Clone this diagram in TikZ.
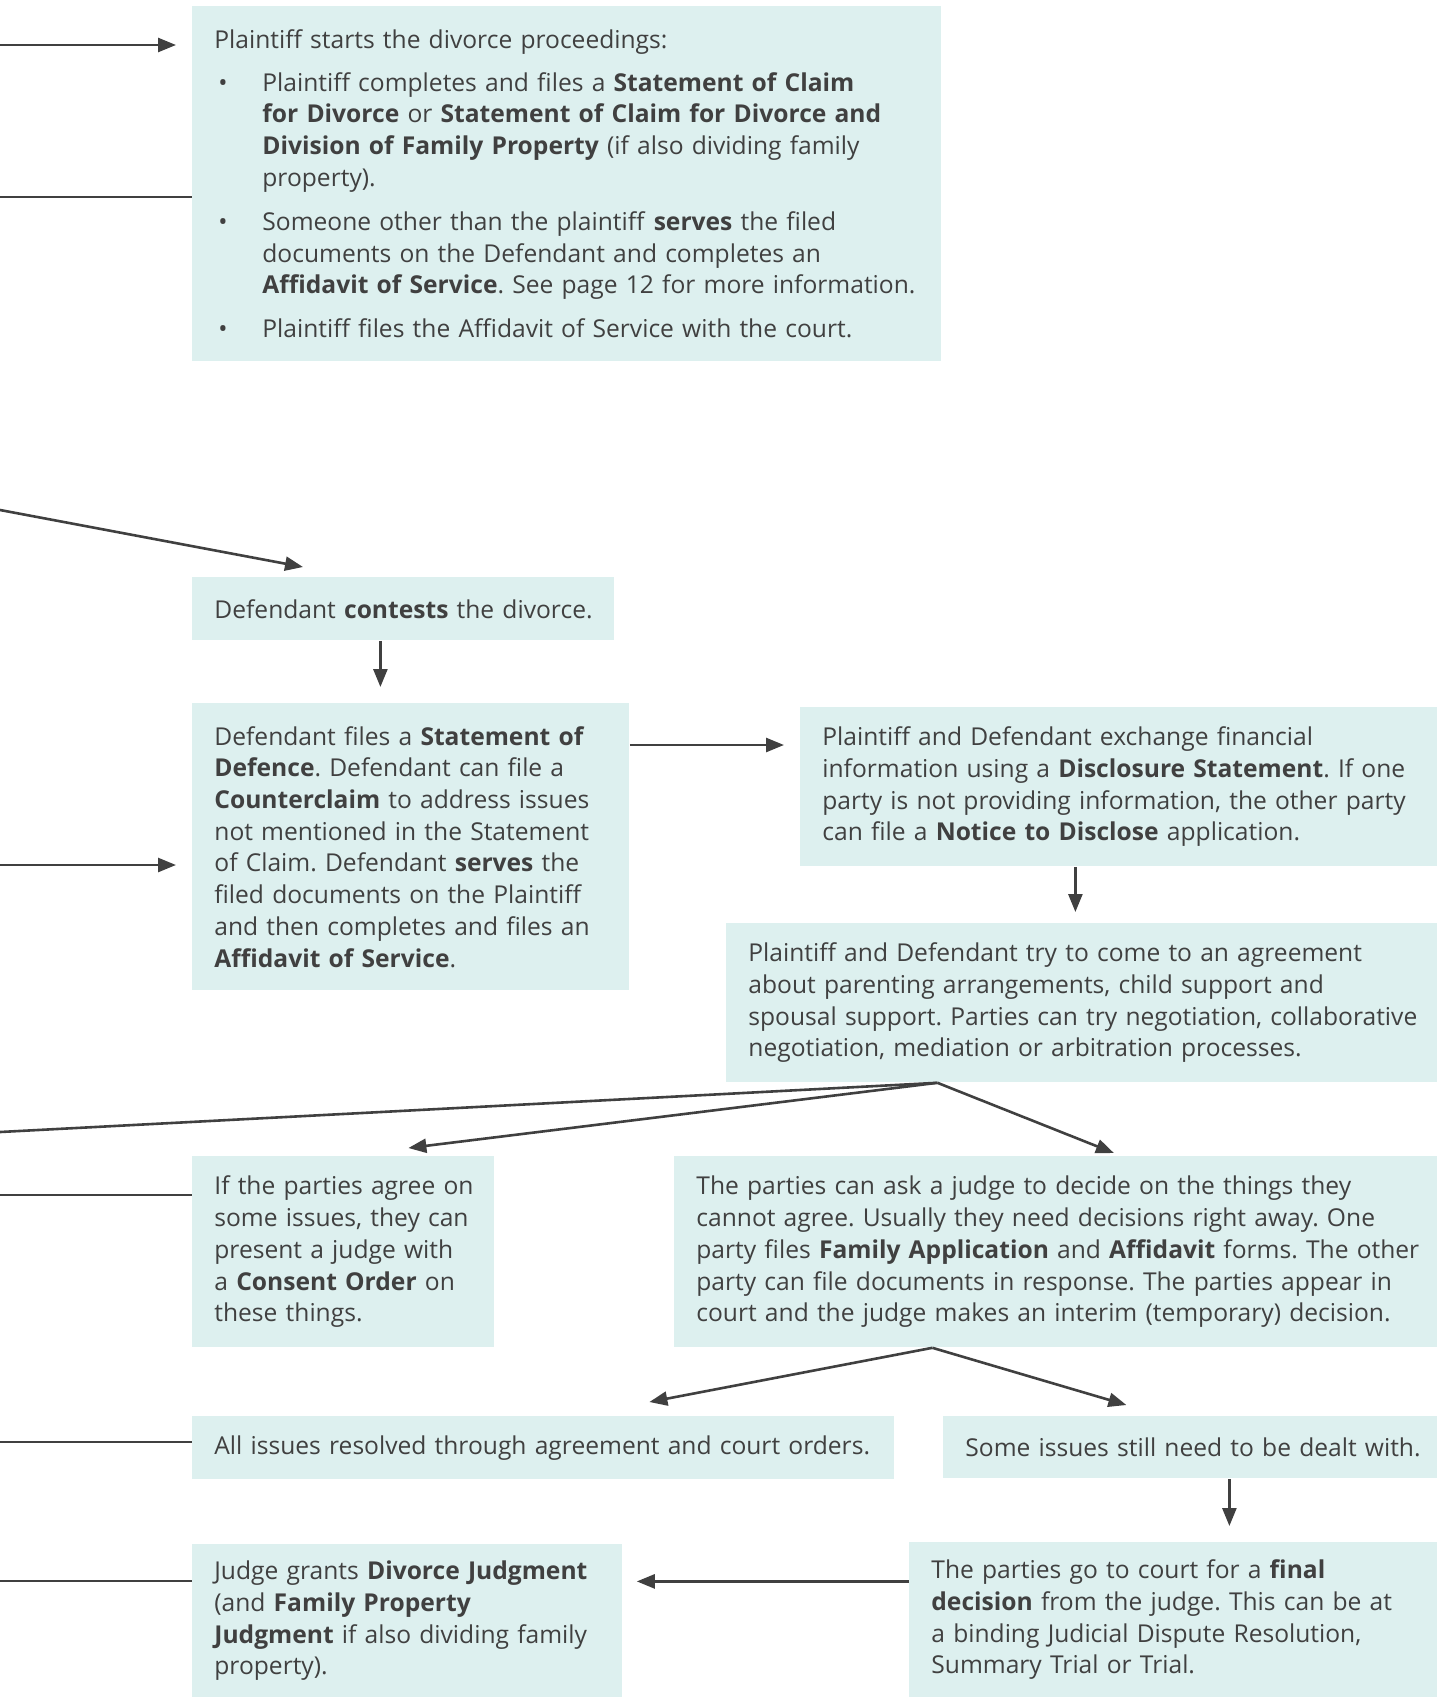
\documentclass[tikz,border=0pt]{standalone}
\usepackage{fontspec}
\setmainfont{Open Sans}
\usepackage{xcolor}
\usetikzlibrary{arrows.meta}
\definecolor{boxfill}{HTML}{DDF0EF}
\definecolor{ink}{HTML}{404040}
\setlength{\parindent}{0pt}
\frenchspacing
\newcommand{\bpoint}[1]{\par\vspace{8.7pt}\noindent\makebox[24pt][l]{\hspace*{2pt}\textbullet}\parbox[t]{328.5pt}{\raggedright #1}}

\begin{document}
\begin{tikzpicture}[x=0.5pt,y=-0.5pt,
  stage/.style={fill=boxfill,text=ink,anchor=north west,inner xsep=11pt,inner ysep=0pt,
    font=\fontsize{12.3pt}{15.85pt}\selectfont,
    execute at begin node={\frenchspacing\rightskip=-40pt plus 1fil\relax}},
  flow/.style={draw=ink,line width=1.3pt,-{Triangle[length=9pt,width=7pt]}},
  feed/.style={draw=ink,line width=1.3pt}]
\useasboundingbox (0,0) rectangle (1437,1697);

\node[stage,text width=352.5pt,minimum height=177.5pt] (start) at (192,6) {Plaintiff starts the divorce proceedings:\par\vspace{-3.2pt}
\bpoint{Plaintiff completes and files a \textbf{Statement of Claim}\\ \textbf{for Divorce} or \textbf{Statement of Claim for Divorce and}\\ \textbf{Division of Family Property} (if also dividing family\\ property).}
\bpoint{Someone other than the plaintiff \textbf{serves} the filed\\ documents on the Defendant and completes an\\ \textbf{Affidavit of Service}. See page 12 for more information.}
\bpoint{Plaintiff files the Affidavit of Service with the court.}};
\node[stage,text width=189pt,minimum height=31.5pt] (contests) at (192,577) {Defendant \textbf{contests} the divorce.};
\node[stage,text width=196.5pt,minimum height=143.5pt] (files) at (192,703) {Defendant files a \textbf{Statement of}\\ \textbf{Defence}. Defendant can file a\\ \textbf{Counterclaim} to address issues\\ not mentioned in the Statement\\ of Claim. Defendant \textbf{serves} the\\ filed documents on the Plaintiff\\ and then completes and files an\\ \textbf{Affidavit of Service}.};
\node[stage,text width=296.5pt,minimum height=79.5pt] (disclose) at (800,707) {Plaintiff and Defendant exchange financial\\ information using a \textbf{Disclosure Statement}. If one\\ party is not providing information, the other party\\ can file a \textbf{Notice to Disclose} application.};
\node[stage,text width=333.5pt,minimum height=79.5pt] (try) at (726,923) {Plaintiff and Defendant try to come to an agreement\\ about parenting arrangements, child support and\\ spousal support. Parties can try negotiation, collaborative\\ negotiation, mediation or arbitration processes.};
\node[stage,text width=129pt,minimum height=95.5pt] (consent) at (192,1156) {If the parties agree on\\ some issues, they can\\ present a judge with\\ a \textbf{Consent Order} on\\ these things.};
\node[stage,text width=359.5pt,minimum height=95.5pt] (interim) at (674,1156) {The parties can ask a judge to decide on the things they\\ cannot agree. Usually they need decisions right away. One\\ party files \textbf{Family Application} and \textbf{Affidavit} forms. The other\\ party can file documents in response. The parties appear in\\ court and the judge makes an interim (temporary) decision.};
\node[stage,text width=329pt,minimum height=31.5pt] (resolved) at (192,1416) {All issues resolved through agreement and court orders.};
\node[stage,text width=225pt,minimum height=31pt] (remaining) at (943,1416) {Some issues still need to be dealt with.};
\node[stage,text width=242pt,minimum height=77.5pt] (final) at (909,1542) {The parties go to court for a \textbf{final}\\ \textbf{decision} from the judge. This can be at\\ a binding Judicial Dispute Resolution,\\ Summary Trial or Trial.};
\node[stage,text width=193pt,minimum height=76.5pt] (judgment) at (192,1544) {Judge grants \textbf{Divorce Judgment}\\ (and \textbf{Family Property}\\ \textbf{Judgment} if also dividing family\\ property).};

\coordinate (feedA) at (0,45);
\coordinate (feedB) at (0,197);
\coordinate (feedC) at (0,510);
\coordinate (feedD) at (0,865);
\coordinate (feedE) at (0,1132);
\coordinate (feedF) at (0,1195);
\coordinate (feedG) at (0,1442);
\coordinate (feedH) at (0,1581);
\coordinate (cf) at ([xshift=-11.5pt]contests.south);
\coordinate (fd) at ([yshift=-21pt]files.north east);
\coordinate (dt) at ([xshift=-21.75pt]disclose.south);
\coordinate (trySplit) at ([xshift=-72.25pt]try.south);
\coordinate (askSplit) at ([xshift=-61.75pt]interim.south);
\coordinate (rf) at ([xshift=19.5pt]remaining.south);
\coordinate (fj) at ([yshift=19.25pt]final.west);

\draw[flow,shorten >=8pt] (feedA) -- (feedA -| start.west);
\draw[feed] (feedB) -- (feedB -| start.west);
\draw[flow] (feedC) -- ([xshift=55.5pt,yshift=5pt]contests.north west);
\draw[flow,shorten >=8pt] (cf) -- (cf |- files.north);
\draw[flow,shorten >=8pt] (fd) -- (fd -| disclose.west);
\draw[flow,shorten >=8pt] (feedD) -- (feedD -| files.west);
\draw[flow,shorten >=5.5pt] (dt) -- (dt |- try.north);
\draw[feed] (trySplit) -- (feedE);
\draw[flow] (trySplit) -- ([xshift=32.5pt,yshift=4pt]consent.north);
\draw[flow] (trySplit) -- ([xshift=29pt,yshift=1.5pt]interim.north);
\draw[feed] (feedF) -- (feedF -| consent.west);
\draw[flow] (askSplit) -- ([xshift=53pt,yshift=7pt]resolved.north);
\draw[flow] (askSplit) -- ([xshift=-32pt,yshift=5.5pt]remaining.north);
\draw[feed] (feedG) -- (feedG -| resolved.west);
\draw[flow,shorten >=8pt] (rf) -- (rf |- final.north);
\draw[flow,shorten >=7pt] (fj) -- (fj -| judgment.east);
\draw[feed] (feedH) -- (feedH -| judgment.west);

\end{tikzpicture}
\end{document}
